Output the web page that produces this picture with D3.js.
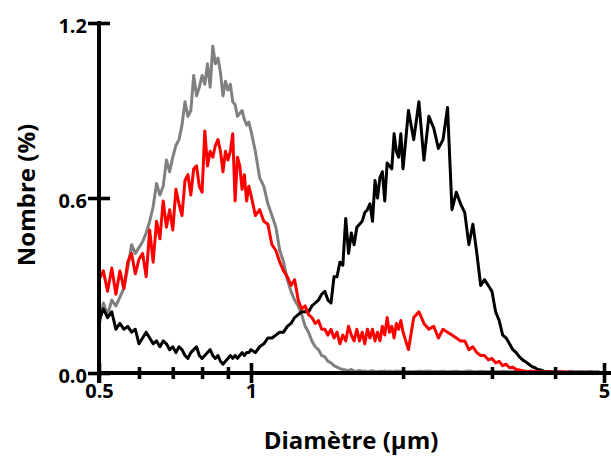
<!DOCTYPE html>
<html>
<head>
<meta charset="utf-8">
<script src="https://cdn.jsdelivr.net/npm/d3@7"></script>
<style>
  body { margin: 0; background: #fff; }
  svg { display: block; }
  text { font-family: "Open Sans", Lato, sans-serif; font-weight: 700; fill: #000; }
</style>
</head>
<body>
<svg id="chart" width="611" height="457"></svg>
<script>
// Size bins (µm)
const diameters = [
  0.50,0.51,0.52,0.53,0.54,0.55,0.56,0.57,0.58,0.59,
  0.60,0.61,0.62,0.63,0.64,0.65,0.66,0.67,0.68,0.69,
  0.70,0.71,0.72,0.73,0.74,0.75,0.76,0.77,0.78,0.79,
  0.80,0.81,0.82,0.83,0.84,0.85,0.86,0.87,0.88,0.89,
  0.90,0.91,0.92,0.93,0.94,0.95,0.96,0.97,0.98,0.99,
  1.00,
  1.02,1.04,1.06,1.08,1.10,1.12,1.14,1.16,1.18,1.20,
  1.22,1.24,1.26,1.28,1.30,1.32,1.34,1.36,1.38,1.40,
  1.42,1.44,1.46,1.48,1.50,1.52,1.54,1.56,1.58,1.60,
  1.62,1.64,1.66,1.68,1.70,1.72,1.74,1.76,1.78,1.80,
  1.82,1.84,1.86,1.88,1.90,1.92,1.94,1.96,1.98,2.00,
  2.05,2.10,2.15,2.20,2.25,2.30,2.35,2.40,2.45,2.50,
  2.55,2.60,2.65,2.70,2.75,2.80,2.85,2.90,2.95,3.00,
  3.05,3.10,3.15,3.20,3.25,3.30,3.35,3.40,3.45,3.50,
  3.55,3.60,3.65,3.70,3.75,3.80,3.85,3.90,3.95,4.00,
  4.1,4.2,4.3,4.4,4.5,4.6,4.7,4.8,4.9,5.0
];

// Number distribution (%) per bin, gray sample
const grayValues = [
  0.16,0.24,0.20,0.25,0.23,0.26,0.29,0.36,0.44,0.41,
  0.43,0.45,0.48,0.52,0.57,0.65,0.61,0.64,0.73,0.69,
  0.74,0.78,0.80,0.85,0.93,0.88,0.90,1.02,0.95,0.98,
  1.02,0.99,1.06,0.98,1.12,1.06,1.08,1.03,0.95,1.00,
  0.97,0.99,0.93,0.92,0.88,0.89,0.90,0.87,0.85,0.86,
  0.83,
  0.76,0.67,0.64,0.58,0.54,0.50,0.42,0.38,0.32,0.28,
  0.25,0.23,0.20,0.16,0.14,0.11,0.09,0.08,0.06,0.055,
  0.04,0.035,0.025,0.02,0.015,0.012,0.010,0.008,0.012,0.007,
  0.006,0.009,0.005,0.007,0.004,0.006,0.008,0.005,0.004,0.006,
  0.005,0.007,0.004,0.006,0.005,0.004,0.007,0.005,0.006,0.004,
  0.005,0.004,0.006,0.005,0.007,0.004,0.005,0.006,0.004,0.005,
  0.006,0.004,0.005,0.007,0.005,0.004,0.006,0.005,0.004,0.006,
  0.005,0.004,0.006,0.005,0.004,0.005,0.006,0.004,0.005,0.004,
  0.005,0.006,0.004,0.005,0.004,0.006,0.005,0.004,0.005,
  0.004,0.005,0.004,0.006,0.004,0.005,0.004,0.005,0.004,0.005
];

// Number distribution (%) per bin, red sample
const redValues = [
  0.32,0.35,0.28,0.36,0.27,0.35,0.29,0.38,0.41,0.34,
  0.39,0.41,0.33,0.49,0.38,0.52,0.46,0.59,0.50,0.56,
  0.49,0.63,0.58,0.54,0.66,0.68,0.61,0.70,0.71,0.64,
  0.62,0.83,0.71,0.76,0.74,0.78,0.80,0.76,0.69,0.76,
  0.73,0.76,0.82,0.59,0.74,0.71,0.63,0.68,0.59,0.64,
  0.61,
  0.54,0.56,0.52,0.51,0.44,0.42,0.38,0.35,0.33,0.30,
  0.32,0.25,0.22,0.23,0.20,0.19,0.17,0.18,0.15,0.15,
  0.13,0.15,0.12,0.14,0.10,0.13,0.11,0.16,0.13,0.11,
  0.15,0.11,0.14,0.10,0.15,0.12,0.15,0.11,0.14,0.11,
  0.16,0.13,0.19,0.14,0.16,0.12,0.17,0.15,0.18,0.14,
  0.08,0.19,0.21,0.17,0.15,0.16,0.12,0.15,0.14,0.13,
  0.12,0.11,0.11,0.08,0.09,0.07,0.06,0.06,0.045,0.05,
  0.035,0.04,0.025,0.03,0.018,0.02,0.012,0.01,0.008,0.006,
  0.005,0.006,0.004,0.005,0.003,0.004,0.003,0.004,0.003,
  0.003,0.004,0.003,0.003,0.002,0.003,0.002,0.003,0.002,0.002
];

// Number distribution (%) per bin, black sample
const blackValues = [
  0.18,0.22,0.19,0.21,0.15,0.17,0.15,0.16,0.14,0.15,
  0.10,0.12,0.14,0.12,0.10,0.11,0.09,0.11,0.10,0.08,
  0.09,0.07,0.09,0.08,0.06,0.05,0.07,0.08,0.09,0.06,
  0.05,0.06,0.07,0.08,0.06,0.05,0.06,0.04,0.03,0.04,
  0.05,0.06,0.05,0.06,0.05,0.06,0.07,0.06,0.07,0.07,
  0.08,
  0.07,0.09,0.10,0.12,0.12,0.13,0.14,0.14,0.16,0.17,
  0.19,0.20,0.21,0.21,0.21,0.23,0.24,0.25,0.27,0.28,
  0.25,0.24,0.33,0.33,0.38,0.37,0.53,0.41,0.48,0.44,
  0.50,0.51,0.52,0.55,0.56,0.58,0.52,0.66,0.60,0.67,
  0.69,0.59,0.72,0.71,0.70,0.82,0.76,0.74,0.82,0.70,
  0.90,0.80,0.93,0.73,0.88,0.84,0.77,0.80,0.91,0.56,
  0.62,0.58,0.55,0.44,0.51,0.41,0.30,0.32,0.30,0.28,
  0.21,0.18,0.13,0.12,0.10,0.08,0.07,0.055,0.045,0.038,
  0.03,0.022,0.018,0.012,0.01,0.006,0.005,0.004,0.003,
  0.003,0.002,0.002,0.001,0.002,0.001,0.001,0.001,0.001,0.001
];

const xMajorTicks = [0.5, 1, 5];
const xMinorTicks = [0.6, 0.7, 0.8, 0.9, 2, 3, 4];
const yTicks = [0, 0.6, 1.2];

const series = [
  { name: "gris", color: "#808080", values: grayValues },
  { name: "noir", color: "#000000", values: blackValues },
  { name: "rouge", color: "#ff0000", values: redValues }
];

const svg = d3.select("#chart");
svg.append("rect").attr("width", 611).attr("height", 457).attr("fill", "#fff");

const x = d3.scaleLog().domain([0.5, 5]).range([99, 604]);
const y = d3.scaleLinear().domain([0, 1.2]).range([373, 23]);

// data lines
const line = d3.line()
  .x((d, i) => x(diameters[i]))
  .y(d => y(d));

svg.append("g").selectAll("path")
  .data(series)
  .join("path")
  .attr("fill", "none")
  .attr("stroke", s => s.color)
  .attr("stroke-width", 3)
  .attr("stroke-linejoin", "round")
  .attr("d", s => line(s.values));

// x axis: minor and major ticks crossing the baseline
const gxMinor = svg.append("g").attr("transform", `translate(0,${y(0)})`)
  .call(d3.axisBottom(x).tickValues(xMinorTicks).tickFormat(""));
gxMinor.select(".domain").remove();
gxMinor.selectAll(".tick line").attr("y1", -6).attr("y2", 6).attr("stroke-width", 3.6);

const gxMajor = svg.append("g").attr("transform", `translate(0,${y(0)})`)
  .call(d3.axisBottom(x).tickValues(xMajorTicks).tickFormat(d => String(d)));
gxMajor.select(".domain").remove();
gxMajor.selectAll(".tick line").attr("y1", -10).attr("y2", 10).attr("stroke-width", 3.6);
gxMajor.selectAll(".tick text")
  .attr("y", 25).attr("dy", 0)
  .style("font-size", "20px");

svg.append("line")
  .attr("x1", x(0.5) - 2).attr("x2", 620)
  .attr("y1", y(0)).attr("y2", y(0))
  .attr("stroke", "#000").attr("stroke-width", 4);

// y axis
const gy = svg.append("g").attr("transform", `translate(${x(0.5)},0)`)
  .call(d3.axisLeft(y).tickValues(yTicks).tickFormat(d3.format(".1f")));
gy.select(".domain").remove();
gy.selectAll(".tick line").attr("x1", -11).attr("x2", 11).attr("stroke-width", 3.6);
gy.selectAll(".tick text")
  .attr("x", -12).attr("dy", "0.45em")
  .style("font-size", "20px");

svg.append("line")
  .attr("x1", x(0.5)).attr("x2", x(0.5))
  .attr("y1", y(1.2) - 2).attr("y2", y(0) + 10)
  .attr("stroke", "#000").attr("stroke-width", 4);

// axis titles
svg.append("text")
  .attr("x", 351).attr("y", 449)
  .attr("text-anchor", "middle")
  .style("font-size", "24px")
  .text("Diamètre (µm)");

svg.append("text")
  .attr("transform", "translate(35,195) rotate(-90)")
  .attr("text-anchor", "middle")
  .style("font-size", "24px")
  .text("Nombre (%)");
</script>
</body>
</html>
